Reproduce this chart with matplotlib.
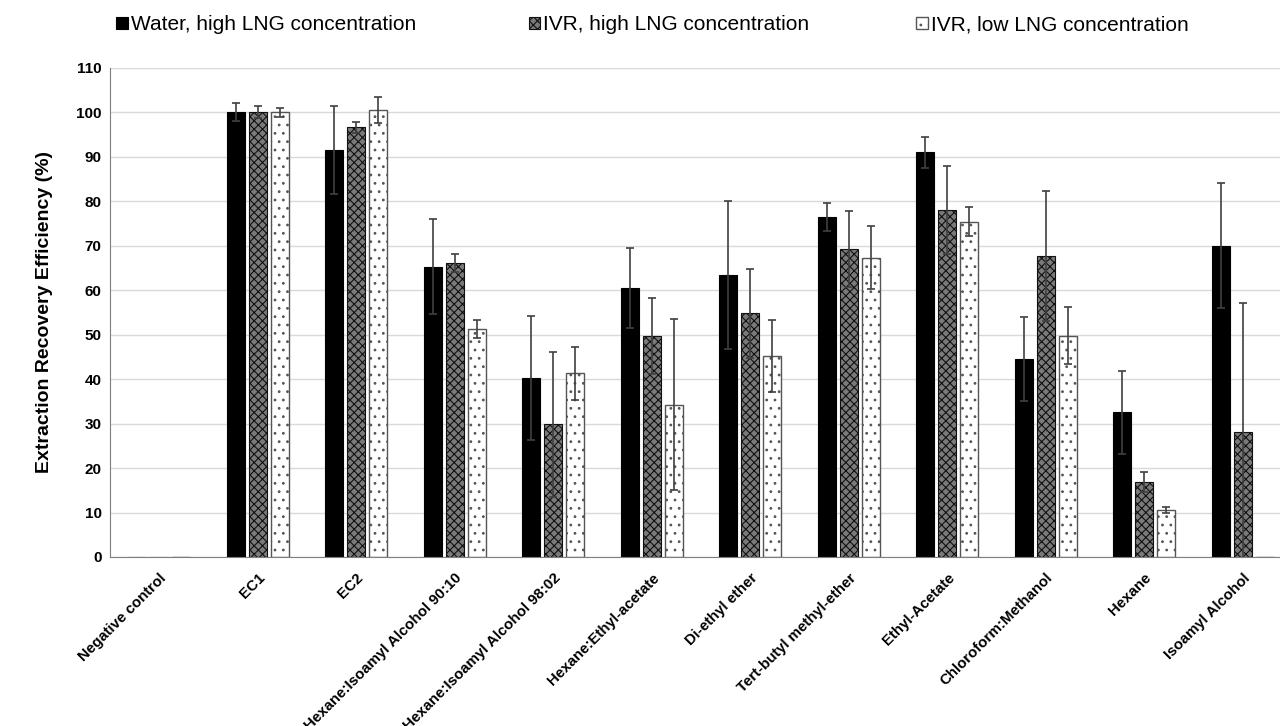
import matplotlib
matplotlib.use("Agg")
import matplotlib.pyplot as plt
import numpy as np
from matplotlib.patches import Patch

plt.rcParams['font.family'] = ['Liberation Sans', 'DejaVu Sans']
plt.rcParams['hatch.linewidth'] = 0.8

categories = ["Negative control", "EC1", "EC2", "Hexane:Isoamyl Alcohol 90:10",
              "Hexane:Isoamyl Alcohol 98:02", "Hexane:Ethyl-acetate", "Di-ethyl ether",
              "Tert-butyl methyl-ether", "Ethyl-Acetate", "Chloroform:Methanol",
              "Hexane", "Isoamyl Alcohol"]

series_names = ["Water, high LNG concentration", "IVR, high LNG concentration",
                "IVR, low LNG concentration"]

water_high = [0, 100.0, 91.4, 65.3, 40.2, 60.5, 63.4, 76.4, 91.0, 44.5, 32.5, 70.0]
water_high_err = [0, 2.0, 9.9, 10.7, 14.0, 9.0, 16.6, 3.2, 3.5, 9.5, 9.4, 14.0]

ivr_high = [0, 100.0, 96.6, 66.0, 29.8, 49.7, 54.8, 69.2, 78.0, 67.7, 16.8, 28.2]
ivr_high_err = [0, 1.3, 1.2, 2.0, 16.3, 8.5, 10.0, 8.5, 10.0, 14.6, 2.3, 29.0]

ivr_low = [0, 100.0, 100.5, 51.2, 41.3, 34.2, 45.2, 67.3, 75.4, 49.7, 10.6, 0]
ivr_low_err = [0, 1.0, 3.0, 2.0, 6.0, 19.2, 8.0, 7.1, 3.2, 6.4, 0.7, 0]

fig = plt.figure(figsize=(12.8, 7.26), dpi=100)
ax = fig.add_axes([0.0859, 0.2328, 0.9235, 0.674])

x = np.arange(len(categories))
w = 0.183
off = 0.223

err_kw = dict(ecolor='#404040', elinewidth=1.2, capsize=3, capthick=1.2)

series = [
    (water_high, water_high_err, dict(color='black', edgecolor='black', linewidth=0.8)),
    (ivr_high, ivr_high_err, dict(facecolor='#7a7a7a', edgecolor='#111111', hatch='xxxx', linewidth=0.8)),
    (ivr_low, ivr_low_err, dict(facecolor='white', edgecolor='#555555', hatch='..', linewidth=1.0)),
]

for i, (vals, errs, style) in enumerate(series):
    pos = x + (i - 1) * off
    vals = np.array(vals, dtype=float)
    errs = np.array(errs, dtype=float)
    ax.bar(pos, vals, width=w, zorder=2, **style)
    mask = errs > 0
    ax.errorbar(pos[mask], vals[mask], yerr=errs[mask], fmt='none', zorder=3, **err_kw)

ax.set_xlim(-0.5, 11.5)
ax.set_ylim(0, 110)
ax.set_yticks(np.arange(0, 111, 10))
ax.grid(axis='y', color='#d9d9d9', linewidth=1.0, zorder=0)
ax.set_axisbelow(True)
for s in ['top', 'right']:
    ax.spines[s].set_visible(False)
ax.spines['left'].set_color('#7f7f7f')
ax.spines['bottom'].set_color('#7f7f7f')
ax.tick_params(axis='both', length=0)
ax.tick_params(axis='y', labelsize=11, pad=6)
for lab in ax.get_yticklabels():
    lab.set_fontweight('bold')

ax.set_xticks(x)
ax.set_xticklabels(categories, rotation=45, ha='right', rotation_mode='anchor',
                   fontsize=10.8, fontweight='bold')
ax.tick_params(axis='x', pad=10)

ax.set_ylabel("Extraction Recovery Efficiency (%)", fontsize=14, fontweight='bold', labelpad=17)

handles = [Patch(**series[0][2]), Patch(**series[1][2]), Patch(**series[2][2])]
xs = [0.091, 0.413, 0.716]
for h, name, xx in zip(handles, series_names, xs):
    leg = fig.legend([h], [name], loc='center left', bbox_to_anchor=(xx, 0.966),
                     frameon=False, fontsize=15, handlelength=0.55, handleheight=0.55,
                     handletextpad=0.15, borderaxespad=0, borderpad=0)

fig.savefig("out.png", dpi=100)
